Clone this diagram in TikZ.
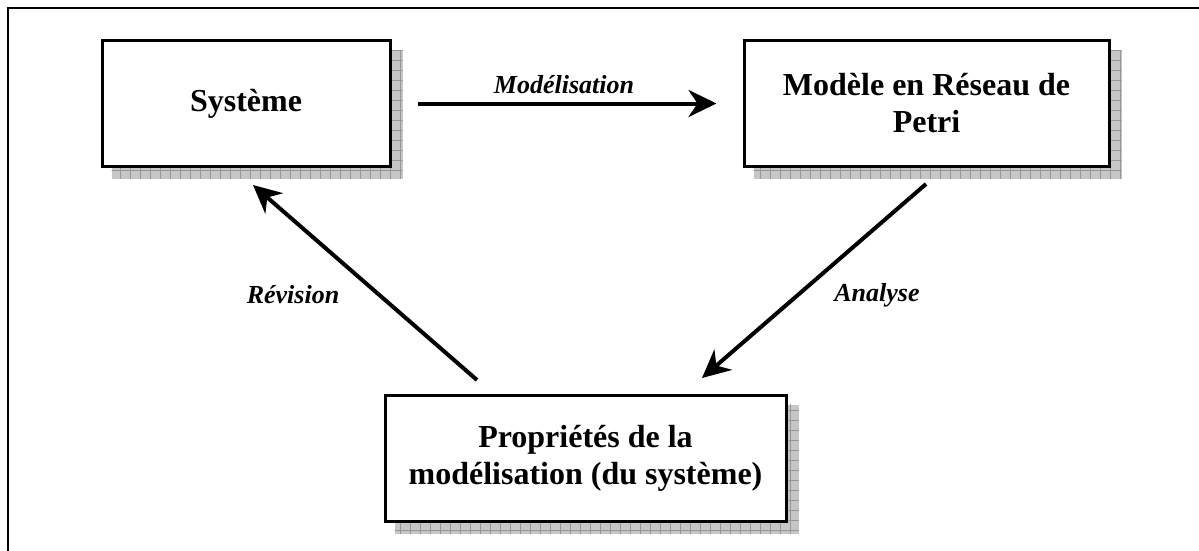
\documentclass[tikz,border=0pt]{standalone}
\usepackage{fontspec}
\setmainfont{Liberation Serif}
\usetikzlibrary{arrows.meta,calc,backgrounds}
\definecolor{shadefill}{RGB}{198,198,198}
\definecolor{shadegrid}{RGB}{150,150,150}
% hatched drop shadow behind a named box
\newcommand\dropshadow[1]{%
  \begin{scope}[on background layer]
    \fill[shadefill] ($(#1.south west)+(11,11)$) rectangle ($(#1.north east)+(11,11)$);
    \begin{scope}
      \clip ($(#1.south west)+(11,11)$) rectangle ($(#1.north east)+(11,11)$);
      \draw[shadegrid,line width=0.8pt,step=10pt] ($(#1.south west)+(0,30)$) grid ($(#1.north east)+(30,0)$);
    \end{scope}
  \end{scope}}
\begin{document}
\begin{tikzpicture}[x=1pt,y=-1pt,
  box/.style={draw=black,line width=3pt,fill=white,align=center,inner sep=0pt,
    font=\fontsize{32}{37}\selectfont\bfseries},
  flow/.style={line width=4pt,-{Stealth[length=28pt,width=27pt,inset=9pt]}},
  lbl/.style={font=\fontsize{26}{30}\selectfont\bfseries\itshape,inner sep=0pt},
  frame/.style={line width=2.5pt}]
\useasboundingbox (0,0) rectangle (1199,551);
\draw[frame] (8,551) -- (8,8) -- (1199,8);

% boxes
\node[box,minimum width=288pt,minimum height=125pt] (sys) at (246,103.5) {Système};
\node[box,minimum width=365pt,minimum height=125pt] (mod) at (926.5,103.5) {Modèle en Réseau de\\Petri};
\node[box,minimum width=401pt,minimum height=126pt] (prop) at (585.5,458) {Propriétés de la\\modélisation (du système)};
\dropshadow{sys}
\dropshadow{mod}
\dropshadow{prop}

% arrow end points
\coordinate (anaS) at (926,184);
\coordinate (anaE) at (702,378);
\coordinate (revS) at (477,380);
\coordinate (revE) at (253,185);

% connectors
\draw[flow,shorten <=26pt,shorten >=26pt] (sys.east) -- (mod.west);
\draw[flow] (anaS) -- (anaE);
\draw[flow] (revS) -- (revE);

% labels
\node[lbl] (lmod) at (564,85) {Modélisation};
\node[lbl] (lana) at (877,295) {Analyse};
\node[lbl] (lrev) at (293,295) {Révision};
\end{tikzpicture}
\end{document}
